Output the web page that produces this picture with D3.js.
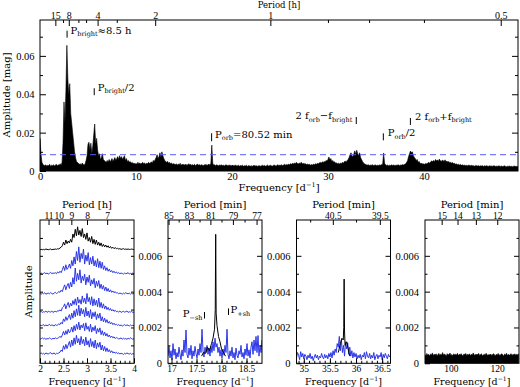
<!DOCTYPE html>
<html>
<head>
<meta charset="utf-8">
<script src="https://cdn.jsdelivr.net/npm/d3@7"></script>
<style>
body { margin: 0; background: #fff; }
text { font-family: "DejaVu Serif", serif; fill: #000; }
.tick text { font-family: "Liberation Serif", serif; font-size: 10.5px; }
.axis path.domain { display: none; }
.axis line { stroke: #000; }
</style>
</head>
<body>
<script>
/*
amplitude spectra: full periodogram on top, four zooms below
*/

// ---------- data ----------

// top panel: amplitude in 1e-4 mag, one value every 0.1 d^-1 from 0
var topStep = 0.1;
var topAmp = [
  170,90,45,35,30,28,32,25,30,27,
  35,25,30,28,33,26,30,35,28,32,
  30,38,30,45,150,360,250,420,655,480,
  400,455,300,250,200,150,100,70,50,45,
  40,35,38,30,42,35,30,38,55,80,
  140,150,110,145,90,130,190,245,140,170,
  110,80,90,60,70,90,60,55,50,45,
  55,45,60,50,55,65,50,60,70,55,
  65,75,60,80,65,75,60,70,80,55,
  65,50,55,45,50,40,45,38,42,35,
  40,35,45,38,42,36,40,45,38,42,
  35,40,38,45,40,42,48,40,55,50,
  60,70,85,65,75,95,70,100,80,65,
  55,50,45,50,40,45,38,42,35,38,
  36,32,38,30,36,33,40,30,35,32,
  34,30,36,29,33,38,31,35,30,33,
  30,35,28,32,36,30,34,29,33,31,
  28,33,30,35,29,32,36,30,40,135,
  40,30,33,28,32,30,27,31,29,33,
  28,31,26,30,33,27,30,28,32,26,
  29,25,30,27,31,26,28,30,25,29,
  27,30,25,28,26,30,24,28,27,25,
  28,24,27,30,25,28,26,24,29,26,
  25,28,30,26,29,25,27,31,26,28,
  30,27,25,29,31,28,26,30,33,28,
  31,29,33,28,32,35,30,34,31,36,
  33,38,35,40,36,42,38,45,40,37,
  42,38,45,40,36,41,35,38,33,36,
  32,35,30,34,31,36,33,38,35,40,
  38,42,45,40,48,44,50,46,55,52,
  60,73,58,65,50,55,45,48,40,42,
  38,40,36,42,38,45,40,48,52,45,
  55,60,70,85,95,80,75,90,105,85,
  108,90,80,95,70,60,50,42,38,35,
  32,30,34,28,31,29,33,30,28,32,
  30,27,31,28,32,30,34,35,94,40,
  32,29,31,27,30,28,32,29,31,30,
  28,31,29,33,30,28,32,30,34,31,
  35,38,45,55,75,90,104,95,100,80,
  70,65,55,60,45,50,40,38,40,35,
  38,34,40,36,42,45,40,48,52,50,
  55,48,60,52,58,50,62,55,50,56,
  55,50,58,48,52,45,50,42,46,40,
  44,38,40,35,37,33,35,31,34,30,
  32,29,31,28,30,27,29,31,27,28,
  30,26,28,25,29,27,26,28,25,27,
  26,28,24,27,25,28,26,24,27,25,
  27,24,26,28,25,23,26,24,27,25,
  24,26,23,25,27,24,22,25,24,26,
  23,25,22,24,26,23,25,22,24
];
var topLimit = 0.0085;                 // dashed level [mag]
var topPeriods = [15, 8, 4, 2, 1, 0.5]; // [h]
var topPeriodsMinor = [10, 6, 5, 3, 0.8, 0.7, 0.6];

// panel 1 (2-4 d^-1): stacked spectra, 1e-3 mag, every 0.025 d^-1 from 2
var p1Step = 0.025;
var p1Offsets = [316, 247, 191, 140, 102, 65, 23];
var p1Black = [
  1,2,1,2,1,3,2,1,2,3,1,2,2,3,2,4,3, 6,8,12,
  22,14,28,18,25,20,30,22,45,35,58,40,65,42,55,38,60,35,45,30,
  48,25,35,22,38,18,30,16,28,14,22,12,20,10,16,9,14,8,12,6,
  10,5,8,4,7,4, 5,3,4,2,3,4,2,3,2,3,2,2,3,2,1
];
var p1Blue = [
  [3,5,2,4,6,3,5,2,4,7,3,5,4,6,3,8,5, 10,6,14,
   24,12,28,15,20,30,18,40,25,50,30,65,40,78,35,60,45,72,30,55,
   38,62,28,48,30,52,25,40,22,45,20,38,18,35,15,25,12,20,10,16,
   8,12,6,10,5,8, 4,6,3,5,4,2,5,3,4,6,2,4,3,5,3],
  [4,2,5,3,6,2,4,5,3,6,4,2,5,7,4,6,9, 7,13,9,
   20,28,14,25,32,18,35,22,48,30,75,38,60,42,70,33,52,40,58,28,
   50,35,55,25,42,30,46,20,38,24,40,18,30,16,26,12,22,10,18,8,
   14,7,11,6,9,5, 6,3,5,4,2,5,3,6,4,3,5,2,4,3,4],
  [3,5,2,4,3,6,2,5,4,3,6,2,4,5,3,7,6, 9,6,15,
   18,26,12,22,30,16,28,20,35,24,40,22,45,28,38,25,48,30,42,26,
   55,32,44,24,46,20,40,22,36,18,42,16,30,14,26,12,20,10,16,8,
   13,6,10,5,8,4, 5,3,6,2,4,5,3,4,6,2,4,3,5,2,3],
  [5,3,4,6,2,5,3,4,7,3,5,4,2,6,4,5,8, 6,12,8,
   22,15,28,18,26,34,20,38,24,45,28,50,32,60,30,52,36,48,28,54,
   30,44,26,48,22,40,28,42,20,36,24,38,16,28,14,24,12,20,10,15,
   8,12,6,10,5,7, 4,6,3,5,2,4,6,3,5,4,2,5,3,4,3],
  [2,4,6,3,5,2,4,3,6,4,2,5,3,6,4,5,7, 10,7,14,
   24,14,26,16,30,20,25,36,22,40,26,44,30,50,28,42,34,46,26,48,
   30,38,24,44,22,36,26,40,18,32,22,34,15,26,13,22,11,18,9,14,
   7,11,6,9,4,7, 5,3,4,6,2,5,3,4,2,5,3,6,4,2,4],
  [4,6,3,5,2,6,4,3,5,7,3,4,6,2,5,4,6, 8,14,10,
   26,16,30,18,28,38,22,42,26,48,30,55,34,46,28,52,32,44,26,50,
   28,40,22,46,24,38,20,42,18,34,22,36,14,28,12,24,10,20,9,15,
   7,12,6,9,5,8, 4,6,3,5,4,2,5,3,6,4,3,5,2,4,3]
];
var p1Periods = [11, 10, 9, 8, 7]; // [h]

// panel 2 (around f_orb): 1e-5 mag
var p2Step = 0.02;
var p2Blue = [
  40,95,30,70,20,110,45,80,25,60,
  35,90,50,20,75,40,130,60,186,50,
  30,85,45,100,25,70,40,95,55,30,
  80,45,110,60,190,70,35,90,60,100,
  50,85,40,95,60,120,70,140,90,110,
  60,90,40,75,30,80,45,100,60,190,
  50,25,70,40,90,30,60,20,85,45,
  30,70,50,100,35,60,25,80,45,110,
  40,75,30,90,120,50,130,70,150,60,
  155,40,100,60,130
];
var p2BlackF = [17.60,17.64,17.68,17.72,17.76,17.80,17.83,17.86,17.875,17.884,17.893,17.91,17.94,17.97,18.00,18.04,18.08];
var p2BlackA = [40,60,55,90,70,110,140,190,300,720,280,210,150,120,80,60,40];
var p2Periods = [85, 83, 81, 79, 77];      // [min]
var p2PeriodsMinor = [84, 82, 80, 78];

// panel 3 (around 2 f_orb): 1e-5 mag
var p3Step = 0.02;
var p3Blue = [
  30,60,45,20,65,35,55,25,50,40,
  20,45,30,55,25,40,15,35,50,30,
  45,20,40,30,55,35,25,50,30,45,
  25,55,35,60,30,70,45,80,60,110,
  90,150,70,130,60,100,40,120,80,115,
  50,90,40,70,30,60,35,55,25,45,
  30,50,20,45,35,60,25,65,40,30,
  55,25,45,30,60,20,40,50,25,45,
  35,60,20,50,30,55,40,25,50,35,
  45
];
var p3BlackF = [35.66,35.70,35.73,35.755,35.765,35.772,35.78,35.79,35.82,35.85,35.88];
var p3BlackA = [60,110,140,130,200,470,180,100,120,80,40];
var p3Periods = [40.5, 39.5];
var p3PeriodsMinor = [41, 40];

// panel 4 (high frequencies): 1e-5 mag, every 0.4 d^-1
var p4Step = 0.4;
var p4Amp = [
  48,42,55,45,50,40,52,47,58,44, 50,46,53,41,49,55,43,51,47,60,
  45,52,48,40,54,46,50,57,44,49, 42,53,47,51,45,56,43,50,48,54,
  46,41,52,49,55,44,50,47,53,42, 51,45,58,48,43,52,46,50,55,44,
  49,53,41,47,51,45,56,48,43,50, 46,52,44,49,54,47,42,51,45,55,
  48,43,50,53,46,41,52,47,56,44, 50,45,49,54,42,51,47,53,45,50,
  48,52
];
var p4Periods = [15, 14, 13, 12];

var blue = "#2b36e6";

// ---------- drawing ----------

var svg = d3.select("body").append("svg")
    .attr("width", 520)
    .attr("height", 387);

// inward ticks on one side of a panel
function side(p, where, values, len, labels, pad) {
  var fn = {bottom: d3.axisBottom, top: d3.axisTop, left: d3.axisLeft, right: d3.axisRight}[where];
  var sc = (where === "bottom" || where === "top") ? p.x : p.y;
  var tr = {bottom: [0, p.bottom], top: [0, p.top], left: [p.left, 0], right: [p.right, 0]}[where];
  return svg.append("g")
      .classed("axis", true)
      .attr("transform", "translate(" + tr[0] + "," + tr[1] + ")")
      .call(fn(sc).tickValues(values).tickSize(-len).tickPadding(pad || 3)
        .tickFormat(labels ? function(d, i) { return labels[i]; } : ""));
}

function frame(p) {
  svg.append("rect")
      .attr("x", p.left).attr("y", p.top)
      .attr("width", p.right - p.left).attr("height", p.bottom - p.top)
      .attr("fill", "none").attr("stroke", "#000");
}

function panel(left, right, top, bottom, xdom, ydom) {
  var p = {left: left, right: right, top: top, bottom: bottom};
  p.x = d3.scaleLinear().domain(xdom).range([left, right]);
  p.y = d3.scaleLinear().domain(ydom).range([bottom, top]);
  return p;
}

// text with sub/superscript parts
function note(x, y, parts, anchor, size) {
  size = size || 10;
  var t = svg.append("text").attr("x", x).attr("y", y)
      .attr("font-size", size).attr("text-anchor", anchor || "start");
  var shift = 0;
  parts.forEach(function(pt) {
    var s = pt[1] === "sub" ? 2.5 : (pt[1] === "sup" ? -4 : 0);
    t.append("tspan").attr("dy", s - shift).attr("font-size", s ? size * 0.65 : size).text(pt[0]);
    shift = s;
  });
  return t;
}

function clip(p, id) {
  svg.append("clipPath").attr("id", id).append("rect")
      .attr("x", p.left).attr("y", p.top)
      .attr("width", p.right - p.left).attr("height", p.bottom - p.top);
  return "url(#" + id + ")";
}

// ----- top panel -----
var tp = panel(40, 518, 20, 171, [0, 49.8], [0, 0.0787]);
var topData = topAmp.map(function(v, i) { return [i * topStep, v * 1e-4]; });

svg.append("path")
    .datum(topData)
    .attr("clip-path", clip(tp, "ctop"))
    .attr("fill", "#000")
    .attr("stroke", "#000")
    .attr("stroke-width", 0.6)
    .attr("d", d3.area()
      .x(function(d) { return tp.x(d[0]); })
      .y0(tp.y(0))
      .y1(function(d) { return tp.y(d[1]); }));

svg.append("line")
    .attr("x1", tp.left).attr("x2", tp.right)
    .attr("y1", tp.y(topLimit)).attr("y2", tp.y(topLimit))
    .attr("stroke", "#5a5cf0").attr("stroke-dasharray", "6,4");

frame(tp);
side(tp, "bottom", [0, 10, 20, 30, 40], 6, ["0", "10", "20", "30", "40"], 2);
side(tp, "bottom", d3.range(2, 50, 2), 3);
side(tp, "left", [0, 0.02, 0.04, 0.06], 6, ["0", "0.02", "0.04", "0.06"], 5.5);
side(tp, "left", [0.01, 0.03, 0.05, 0.07], 3);
side(tp, "right", [0.02, 0.04, 0.06], 6);
side(tp, "right", [0.01, 0.03, 0.05, 0.07], 3);
side(tp, "top", topPeriods.map(function(h) { return 24 / h; }), 6,
     topPeriods.map(String), 1)
    .selectAll("text").style("font-size", "10px");
side(tp, "top", topPeriodsMinor.map(function(h) { return 24 / h; }), 3);

svg.append("text").attr("x", 279).attr("y", 8).attr("text-anchor", "middle")
    .attr("font-size", 8.5).text("Period [h]");
note(279, 191, [["Frequency [d"], ["−1", "sup"], ["]"]], "middle");
svg.append("text")
    .attr("transform", "translate(10,95) rotate(-90)")
    .attr("text-anchor", "middle").attr("font-size", 10)
    .text("Amplitude [mag]");

// markers in the top panel
function mark(p, f, a, len) {
  svg.append("line")
      .attr("x1", p.x(f)).attr("x2", p.x(f))
      .attr("y1", p.y(a)).attr("y2", p.y(a) - len)
      .attr("stroke", "#000");
  return [p.x(f), p.y(a) - len];
}
var m;
m = mark(tp, 2.82, 0.0695, 7);
note(m[0] + 3.5, m[1] + 3, [["P"], ["bright", "sub"], ["≈8.5 h"]]);
m = mark(tp, 5.65, 0.0395, 7);
note(m[0] + 3.5, m[1] + 2.5, [["P"], ["bright", "sub"], ["/2"]]);
m = mark(tp, 17.88, 0.0155, 8);
note(m[0] + 3.5, m[1] + 4.5, [["P"], ["orb", "sub"], ["=80.52 min"]]);
m = mark(tp, 32.95, 0.0245, 7);
note(m[0] - 4, m[1] + 2.5, [["2 f"], ["orb", "sub"], ["−f"], ["bright", "sub"]], "end");
m = mark(tp, 35.77, 0.016, 7);
note(m[0] + 4.5, m[1] + 3, [["P"], ["orb", "sub"], ["/2"]]);
m = mark(tp, 38.59, 0.024, 7);
note(m[0] + 4.5, m[1] + 2, [["2 f"], ["orb", "sub"], ["+f"], ["bright", "sub"]]);

// ----- bottom panels -----
var bTop = 220, bBot = 363.3, bW = 94;
var minorTicksY = [0.001, 0.003, 0.005, 0.007];

function bottomFrame(p, xMajor, xLabels, xMinor, labelY) {
  frame(p);
  side(p, "bottom", xMajor, 5, xLabels, 2)
      .selectAll("text").style("font-size", "9.5px");
  side(p, "bottom", xMinor, 2.5);
  if (labelY) {
    side(p, "left", [0, 0.002, 0.004, 0.006], 5, ["0", "0.002", "0.004", "0.006"], 6);
    side(p, "left", minorTicksY, 2.5);
    side(p, "right", [0.002, 0.004, 0.006], 5);
    side(p, "right", minorTicksY, 2.5);
  }
  note((p.left + p.right) / 2, 384.5, [["Frequency [d"], ["−1", "sup"], ["]"]], "middle", 9.5);
}

function periodTop(p, freqs, labels, minorFreqs, unit) {
  side(p, "top", freqs, 5, labels, 1)
      .selectAll("text").style("font-size", "9.5px");
  if (minorFreqs) side(p, "top", minorFreqs, 2.5);
  svg.append("text").attr("x", (p.left + p.right) / 2).attr("y", 207.5)
      .attr("text-anchor", "middle").attr("font-size", 10)
      .text("Period [" + unit + "]");
}

var line = function(p, off) {
  return d3.line()
      .x(function(d) { return p.x(d[0]); })
      .y(function(d) { return p.y(d[1] + (off || 0)); });
};

// panel 1
var b1 = panel(40, 40 + bW, bTop, bBot, [2, 4], [0, 400]);
var c1 = clip(b1, "c1");
[p1Black].concat(p1Blue).forEach(function(vals, k) {
  svg.append("path")
      .datum(vals.map(function(v, i) { return [2 + i * p1Step, v]; }))
      .attr("clip-path", c1)
      .attr("fill", "none")
      .attr("stroke", k === 0 ? "#000" : blue)
      .attr("stroke-width", 1)
      .attr("d", line(b1, p1Offsets[k]));
});
bottomFrame(b1, [2, 2.5, 3, 3.5, 4], ["2", "2.5", "3", "3.5", "4"], d3.range(2.1, 4, 0.1), false);
side(b1, "left", d3.range(50, 400, 50), 3);
side(b1, "right", d3.range(50, 400, 50), 3);
periodTop(b1, p1Periods.map(function(h) { return 24 / h; }), p1Periods.map(String), null, "h");
svg.append("text")
    .attr("transform", "translate(31.5,291.5) rotate(-90)")
    .attr("text-anchor", "middle").attr("font-size", 10)
    .text("Amplitude");

// panel 2
var b2 = panel(168, 168 + bW, bTop, bBot, [16.93, 18.81], [0, 0.008]);
var c2 = clip(b2, "c2");
svg.append("path")
    .datum(p2Blue.map(function(v, i) { return [16.93 + i * p2Step, v * 1e-5]; }))
    .attr("clip-path", c2).attr("fill", "none").attr("stroke", blue)
    .attr("d", line(b2));
svg.append("path")
    .datum(p2BlackF.map(function(f, i) { return [f, p2BlackA[i] * 1e-5]; }))
    .attr("clip-path", c2).attr("fill", "none").attr("stroke", "#000")
    .attr("d", line(b2));
bottomFrame(b2, [17, 17.5, 18, 18.5], ["17", "17.5", "18", "18.5"], d3.range(17.1, 18.8, 0.1), true);
periodTop(b2, p2Periods.map(function(mn) { return 1440 / mn; }), p2Periods.map(String),
          p2PeriodsMinor.map(function(mn) { return 1440 / mn; }), "min");
m = mark(b2, 17.66, 0.0025, 6.5);
note(m[0] - 2, m[1] + 5, [["P"], ["−sh", "sub"]], "end");
m = mark(b2, 18.14, 0.0027, 6.5);
note(m[0] + 2, m[1] + 5, [["P"], ["+sh", "sub"]]);

// panel 3
var b3 = panel(296.5, 296.5 + bW, bTop, bBot, [34.86, 36.66], [0, 0.008]);
var c3 = clip(b3, "c3");
svg.append("path")
    .datum(p3Blue.map(function(v, i) { return [34.86 + i * p3Step, v * 1e-5]; }))
    .attr("clip-path", c3).attr("fill", "none").attr("stroke", blue)
    .attr("d", line(b3));
svg.append("path")
    .datum(p3BlackF.map(function(f, i) { return [f, p3BlackA[i] * 1e-5]; }))
    .attr("clip-path", c3).attr("fill", "none").attr("stroke", "#000")
    .attr("d", line(b3));
bottomFrame(b3, [35, 35.5, 36, 36.5], ["35", "35.5", "36", "36.5"], d3.range(34.9, 36.65, 0.1), true);
periodTop(b3, p3Periods.map(function(mn) { return 1440 / mn; }), p3Periods.map(String),
          p3PeriodsMinor.map(function(mn) { return 1440 / mn; }), "min");

// panel 4
var b4 = panel(425, 425 + bW, bTop, bBot, [88.8, 129.4], [0, 0.008]);
svg.append("path")
    .datum(p4Amp.map(function(v, i) { return [88.8 + i * p4Step, v * 1e-5]; }))
    .attr("clip-path", clip(b4, "c4"))
    .attr("fill", "#000").attr("stroke", "#000").attr("stroke-width", 0.6)
    .attr("d", d3.area()
      .x(function(d) { return b4.x(d[0]); })
      .y0(b4.y(0))
      .y1(function(d) { return b4.y(d[1]); }));
bottomFrame(b4, [100, 120], ["100", "120"], [90, 95, 105, 110, 115, 125], true);
periodTop(b4, p4Periods.map(function(mn) { return 1440 / mn; }), p4Periods.map(String), null, "min");
</script>
</body>
</html>
